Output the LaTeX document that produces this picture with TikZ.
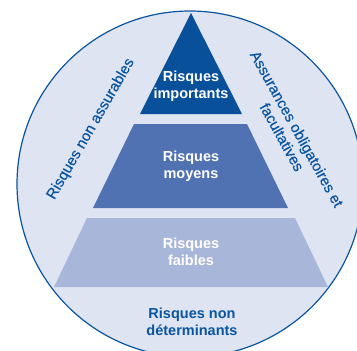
\documentclass[tikz,border=0pt]{standalone}
\usepackage{fontspec}
\setmainfont{Liberation Sans}
\newfontfamily\medfont[FakeBold=0.5]{Liberation Sans}
\definecolor{cdark}{HTML}{08509A}
\definecolor{cmid}{HTML}{5072B2}
\definecolor{clight}{HTML}{A8B6DA}
\definecolor{cback}{HTML}{DEE4F2}
\definecolor{cline}{HTML}{0A55A0}
\tikzset{
  intext/.style={text=white, font=\fontsize{14.5}{17}\selectfont\bfseries, align=center, inner sep=0pt},
  outtext/.style={text=cline, font=\fontsize{14.5}{17}\selectfont\bfseries, align=center, inner sep=0pt},
  sidetext/.style={text=cline, font=\medfont\fontsize{15}{17}\selectfont, align=center, inner sep=0pt}
}
\begin{document}
\begin{tikzpicture}[x=1pt,y=-1pt]
\useasboundingbox (0,0) rectangle (357,351);
\begin{scope}
\clip (0,0) rectangle (357,351);
\fill[white] (0,0) rectangle (357,351);
\draw[fill=cback, draw=cline, line width=1.2pt] (190,184) circle (173);
\end{scope}
\fill[cdark] (191,13) -- (242,114) -- (140,114) -- cycle;
\fill[cmid] (134,124) -- (247,124) -- (288,208) -- (93,208) -- cycle;
\fill[clight] (87,218) -- (295,218) -- (328,287) -- (54,287) -- cycle;
\node[intext] (top) at (191,86) {Risques\\importants};
\node[intext] (mid) at (191,166) {Risques\\moyens};
\node[intext] (low) at (191,252) {Risques\\faibles};
\node[outtext] (none) at (192,322) {Risques non\\déterminants};
\node[sidetext, rotate=60] (left) at (91,129) {Risques non assurables};
\node[sidetext, rotate=-61] (right) at (289.5,133) {Assurances obligatoires et\\facultatives};
\end{tikzpicture}
\end{document}
